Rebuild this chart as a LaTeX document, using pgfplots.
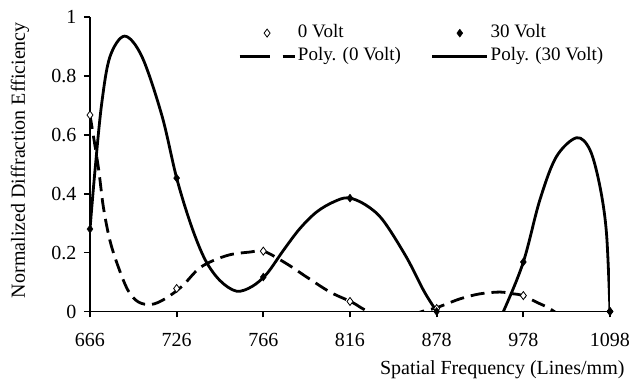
\documentclass[border=0pt]{standalone}
\usepackage{fontspec}
\setmainfont{Liberation Serif}
\usepackage{pgfplots}
\pgfplotsset{compat=1.18}
\pgfplotsset{legend image code/.code={\draw[mark repeat=2,mark phase=2,#1] plot coordinates {(0pt,0pt)(27.5pt,0pt)(55pt,0pt)};}}
\begin{document}
\begin{tikzpicture}
\useasboundingbox (-90pt,-67.5pt) rectangle (544pt,311.5pt);
\begin{axis}[
  at={(0pt,0pt)}, anchor=south west,
  scale only axis, width=520pt, height=294.5pt,
  xmin=0, xmax=6, ymin=0, ymax=1,
  axis x line*=bottom, axis y line*=left,
  axis line style={line width=1.8pt,-},
  tick align=outside, major tick length=6pt,
  tick style={line width=1.8pt, black},
  xtick={0,1,2,3,4,5,6},
  xticklabels={666,726,766,816,878,978,1098},
  ytick={0,0.2,0.4,0.6,0.8,1},
  yticklabels={0,0.2,0.4,0.6,0.8,1},
  /pgf/number format/assume math mode=true,
  ticklabel style={font=\fontsize{20}{24}\selectfont},
  xticklabel style={yshift=-12pt},
  yticklabel style={xshift=-4pt},
  xlabel={Spatial Frequency (Lines/mm)},
  xlabel style={at={(axis description cs:1.0346,-0.2156)}, anchor=base east, font=\fontsize{20}{24}\selectfont},
  ylabel={Normalized Diffraction Efficiency},
  ylabel style={at={(axis description cs:-0.125,0.514)}, anchor=base, font=\fontsize{20}{24}\selectfont},
  legend columns=2, legend cell align=left,
  legend style={draw=none, fill=none, at={(0.2846,0.985)}, anchor=north west,
    font=\fontsize{19}{23}\selectfont, nodes={inner sep=2pt, text height=14pt, text depth=5pt}, inner sep=0pt,
    /tikz/every even column/.append style={column sep=28pt}},
]
% Poly (0 Volt) trend line
\addplot[black, line width=2.8pt, dash pattern=on 14pt off 7pt, smooth, tension=0.55, forget plot] coordinates {
(0,0.667) (0.096,0.49) (0.154,0.355) (0.23,0.241) (0.327,0.151) (0.44,0.071) (0.56,0.032)
(0.71,0.024) (0.865,0.043) (1.06,0.085) (1.28,0.151) (1.58,0.19) (1.85,0.202) (2.01,0.204)
(2.27,0.162) (2.5,0.117) (2.77,0.066) (3.02,0.032) (3.15,0.009)
(3.35,-0.02) (3.6,-0.025) (3.83,0) (4,0.013) (4.27,0.043) (4.5,0.06) (4.73,0.066) (4.885,0.06)
(5,0.054) (5.15,0.032) (5.31,0.009) (5.5,-0.03) (5.7,-0.06) (5.9,-0.05) (6,0)};
% Poly (30 Volt) trend line
\addplot[black, line width=2.8pt, smooth, tension=0.55, forget plot] coordinates {
(0,0.28) (0.058,0.48) (0.135,0.706) (0.23,0.865) (0.40,0.935) (0.6,0.865) (0.83,0.665)
(1,0.453) (1.17,0.29) (1.33,0.175) (1.5,0.105) (1.69,0.069) (1.87,0.085) (2.04,0.128)
(2.23,0.207) (2.42,0.281) (2.615,0.338) (2.81,0.372) (2.98,0.386) (3.18,0.362) (3.38,0.31)
(3.65,0.185) (3.85,0.071) (4,0) (4.2,-0.09) (4.4,-0.13) (4.6,-0.1) (4.77,0) (5,0.168) (5.19,0.378)
(5.38,0.525) (5.615,0.59) (5.77,0.548) (5.885,0.423) (5.96,0.264) (6,0)};
% 0 Volt data
\addplot[only marks, mark=diamond*, mark size=4pt, draw=black, fill=white, line width=0.8pt]
  coordinates {(0,0.667) (1,0.078) (2,0.205) (3,0.034) (4,0.01) (5,0.054) (6,0)};
\addlegendentry{0 Volt}
% 30 Volt data
\addplot[only marks, mark=diamond*, mark size=4pt, draw=black, fill=black]
  coordinates {(0,0.28) (1,0.453) (2,0.117) (3,0.385) (4,0) (5,0.168) (6,0)};
\addlegendentry{30 Volt}
\addlegendimage{black, line width=2.8pt, dash pattern=on 30pt off 13pt}
\addlegendentry{Poly. (0 Volt)}
\addlegendimage{black, line width=2.8pt}
\addlegendentry{Poly. (30 Volt)}
\end{axis}
\end{tikzpicture}
\end{document}
